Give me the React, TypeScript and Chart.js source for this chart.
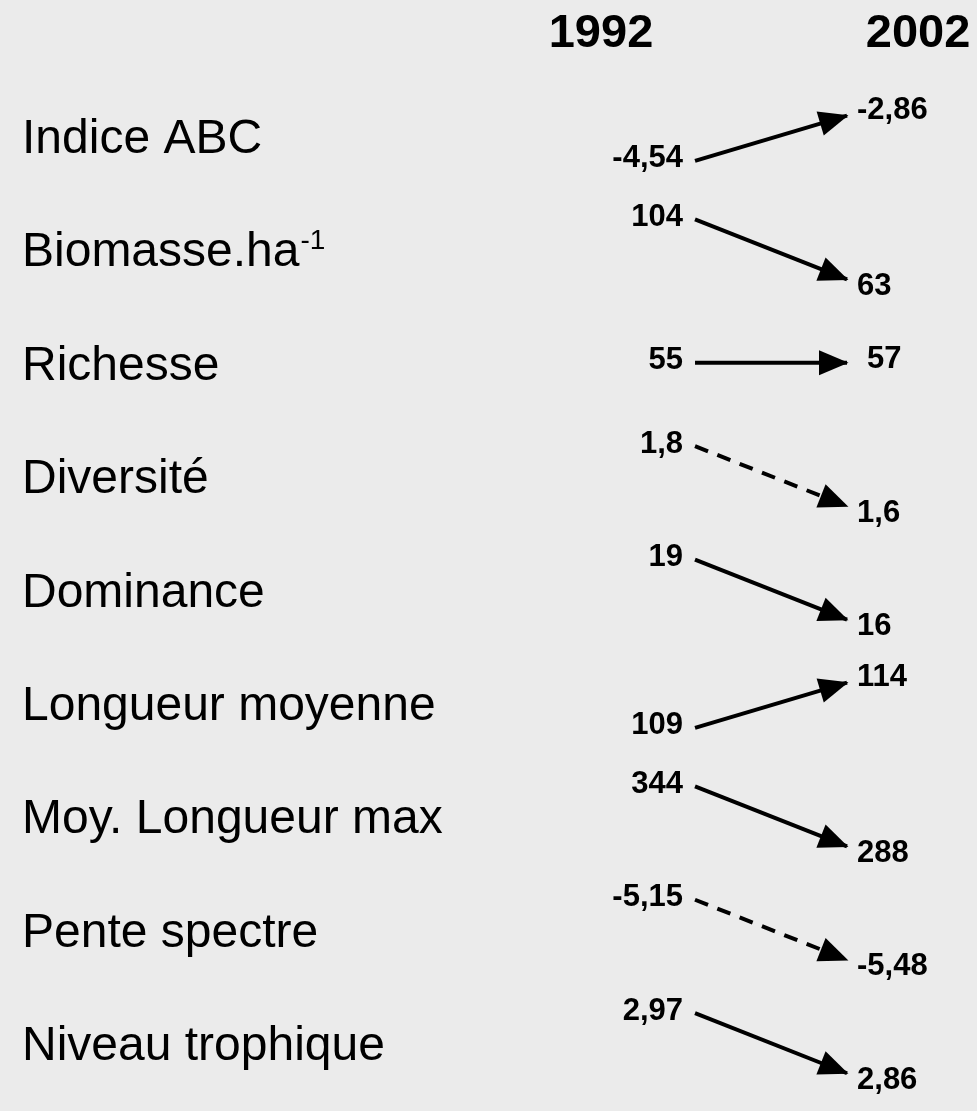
import React, { useEffect, useRef } from 'react';
import { Chart, registerables } from 'chart.js';

Chart.register(...registerables);

// ---- data ----
const categories = [
  'Indice ABC',
  'Biomasse.ha',
  'Richesse',
  'Diversité',
  'Dominance',
  'Longueur moyenne',
  'Moy. Longueur max',
  'Pente spectre',
  'Niveau trophique',
];
const categorySuperscripts = ['', '-1', '', '', '', '', '', '', ''];
const years = ['1992', '2002'];
const values1992 = [-4.54, 104, 55, 1.8, 19, 109, 344, -5.15, 2.97];
const values2002 = [-2.86, 63, 57, 1.6, 16, 114, 288, -5.48, 2.86];
const trends = ['up', 'down', 'flat', 'down', 'down', 'up', 'down', 'down', 'down'];
const dashed = [false, false, false, true, false, false, false, true, false];

const FONT = '"Liberation Sans", Arial, Helvetica, sans-serif';
const BG = '#ebebeb';

const fmt = (v: number) => String(v).replace('.', ',');

function startOffset(t: string) {
  if (t === 'up') return 0.22;
  if (t === 'down') return -0.265;
  return 0;
}
function endOffset(t: string) {
  if (t === 'up') return -0.18;
  if (t === 'down') return 0.265;
  return 0;
}

const overlayPlugin = {
  id: 'overlay',
  beforeDraw(chart: any) {
    const ctx = chart.ctx;
    ctx.save();
    ctx.fillStyle = BG;
    ctx.fillRect(0, 0, chart.width, chart.height);
    ctx.restore();
  },
  afterDatasetsDraw(chart: any) {
    const ctx = chart.ctx;
    const xs = chart.scales.x;
    const ys = chart.scales.y;
    ctx.save();

    // column titles
    ctx.fillStyle = '#000';
    ctx.font = `bold 47px ${FONT}`;
    ctx.textAlign = 'center';
    ctx.textBaseline = 'alphabetic';
    ctx.fillText(years[0], xs.getPixelForValue(0) - 94, 47);
    ctx.fillText(years[1], xs.getPixelForValue(1) + 71, 47);

    // row labels
    categories.forEach((c, i) => {
      const base = ys.getPixelForValue(i) + 17;
      ctx.font = `48px ${FONT}`;
      ctx.textAlign = 'left';
      ctx.textBaseline = 'alphabetic';
      ctx.fillText(c, 22, base);
      const sup = categorySuperscripts[i];
      if (sup) {
        const w = ctx.measureText(c).width;
        ctx.font = `28px ${FONT}`;
        ctx.fillText(sup, 22 + w + 1, base - 17);
      }
    });

    // arrowheads and value labels
    chart.data.datasets.forEach((ds: any, i: number) => {
      const meta = chart.getDatasetMeta(i);
      const p0 = meta.data[0];
      const p1 = meta.data[1];
      const ang = Math.atan2(p1.y - p0.y, p1.x - p0.x);
      const L = 28;
      const W = 12.5;
      const c = Math.cos(ang);
      const s = Math.sin(ang);
      ctx.fillStyle = '#000';
      ctx.beginPath();
      ctx.moveTo(p1.x + 1.5 * c, p1.y + 1.5 * s);
      ctx.lineTo(p1.x - L * c + W * s, p1.y - L * s - W * c);
      ctx.lineTo(p1.x - L * c - W * s, p1.y - L * s + W * c);
      ctx.closePath();
      ctx.fill();

      ctx.font = `bold 31px ${FONT}`;
      ctx.textBaseline = 'middle';
      ctx.textAlign = 'right';
      ctx.fillText(fmt(values1992[i]), p0.x - 12, p0.y - 2);
      const t = trends[i];
      const dy = t === 'down' ? 7 : t === 'up' ? -5 : -3;
      const dx = t === 'flat' ? 20 : 10;
      ctx.textAlign = 'left';
      ctx.fillText(fmt(values2002[i]), p1.x + dx, p1.y + dy);
    });
    ctx.restore();
  },
};

export default function App() {
  const ref = useRef<HTMLCanvasElement | null>(null);

  useEffect(() => {
    document.body.style.margin = '0';
    document.body.style.background = BG;
    const canvas = ref.current;
    if (!canvas) return;

    const datasets = categories.map((c, i) => ({
      label: c,
      data: [
        { x: 0, y: i + startOffset(trends[i]) },
        { x: 1, y: i + endOffset(trends[i]) },
      ],
      borderColor: '#000',
      borderWidth: 4,
      borderDash: dashed[i] ? [14, 10] : [],
      pointRadius: 0,
      pointHoverRadius: 0,
      fill: false,
      tension: 0,
    }));

    const chart = new Chart(canvas, {
      type: 'line',
      data: { datasets },
      options: {
        animation: false,
        responsive: false,
        maintainAspectRatio: false,
        layout: { padding: 0 },
        plugins: {
          legend: { display: false },
          tooltip: { enabled: false },
          title: { display: false },
        },
        events: [],
        scales: {
          x: { type: 'linear', min: -4.572, max: 1.855, display: false },
          y: { type: 'linear', reverse: true, min: -1.1993, max: 8.598, display: false },
        },
      },
      plugins: [overlayPlugin],
    });
    return () => chart.destroy();
  }, []);

  return (
    <div style={{ width: 977, height: 1111, background: BG }}>
      <canvas ref={ref} width={977} height={1111} style={{ display: 'block' }} />
    </div>
  );
}
